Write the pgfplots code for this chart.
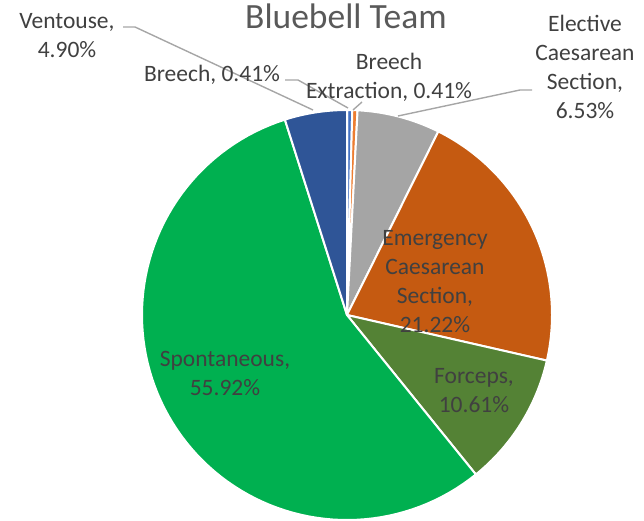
\documentclass[border=0pt]{standalone}
\usepackage{pgfplots}
\pgfplotsset{compat=1.18}
\usepackage{fontspec}
\setmainfont{Carlito}
\definecolor{cBreech}{HTML}{4472C4}
\definecolor{cBreechEx}{HTML}{ED7D31}
\definecolor{cElective}{HTML}{A5A5A5}
\definecolor{cEmergency}{HTML}{C55A11}
\definecolor{cForceps}{HTML}{548235}
\definecolor{cSpont}{HTML}{00B050}
\definecolor{cVentouse}{HTML}{2F5597}
\definecolor{lbl}{HTML}{404040}
\definecolor{ttl}{HTML}{595959}
\definecolor{leader}{HTML}{A6A6A6}
% values (percent), in Excel order clockwise from 12 o'clock
\def\vBreech{0.41}
\def\vBreechEx{0.41}
\def\vElective{6.53}
\def\vEmergency{21.22}
\def\vForceps{10.61}
\def\vSpont{55.92}
\def\vVentouse{4.90}
\def\R{205}
% #1 cumulative start, #2 value, #3 colour
\newcommand\slice[3]{%
  \pgfmathsetmacro\angA{90-3.6*(#1)}%
  \pgfmathsetmacro\angB{90-3.6*((#1)+(#2))}%
  \edef\temp{\noexpand\addplot[fill=#3, draw=white, line width=2pt, line join=round, data cs=polar, domain=\angB:\angA, samples=90] ({x},{\R}) -- (axis cs:0,0) -- cycle;}%
  \temp
}
\begin{document}
\begin{tikzpicture}
\begin{axis}[width=644pt, height=520pt, scale only axis,
  xmin=-347, xmax=297, ymin=-205, ymax=315, hide axis, clip=false]
\path (axis cs:-347,-205) rectangle (axis cs:297,315);
\pgfmathsetmacro\cA{0}
\slice{\cA}{\vBreech}{cBreech}
\pgfmathsetmacro\cA{\cA+\vBreech}
\slice{\cA}{\vBreechEx}{cBreechEx}
\pgfmathsetmacro\cA{\cA+\vBreechEx}
\slice{\cA}{\vElective}{cElective}
\pgfmathsetmacro\cA{\cA+\vElective}
\slice{\cA}{\vEmergency}{cEmergency}
\pgfmathsetmacro\cA{\cA+\vEmergency}
\slice{\cA}{\vForceps}{cForceps}
\pgfmathsetmacro\cA{\cA+\vForceps}
\slice{\cA}{\vSpont}{cSpont}
\pgfmathsetmacro\cA{\cA+\vSpont}
\slice{\cA}{\vVentouse}{cVentouse}
% leader lines
\draw[leader, line width=1.4pt] (axis cs:-224,288) -- (axis cs:-212,288) -- (axis cs:-34,205);
\draw[leader, line width=1.4pt] (axis cs:-62,235) -- (axis cs:-49,235) -- (axis cs:1,207);
\draw[leader, line width=1.4pt] (axis cs:15,213) -- (axis cs:6,205);
\draw[leader, line width=1.4pt] (axis cs:185,225) -- (axis cs:173,225) -- (axis cs:51,199);
% labels
\tikzset{lab/.style={align=center, inner sep=0pt, text=lbl, font=\fontsize{23.5}{29}\selectfont}}
\node[anchor=base, inner sep=0pt, text=ttl, font=\fontsize{35.5}{40}\selectfont] at (axis cs:-1,286) {Bluebell Team};
\node[lab] at (axis cs:-280,279.5) {Ventouse,\\4.90\%};
\node[lab] at (axis cs:-135,240.5) {Breech, 0.41\%};
\node[lab] at (axis cs:42,238) {Breech\\Extraction, 0.41\%};
\node[lab] at (axis cs:238,248) {Elective\\Caesarean\\Section,\\6.53\%};
\node[lab] at (axis cs:88,33) {Emergency\\Caesarean\\Section,\\21.22\%};
\node[lab] at (axis cs:127,-76) {Forceps,\\10.61\%};
\node[lab] at (axis cs:-122,-58) {Spontaneous,\\55.92\%};
\end{axis}
\end{tikzpicture}
\end{document}
